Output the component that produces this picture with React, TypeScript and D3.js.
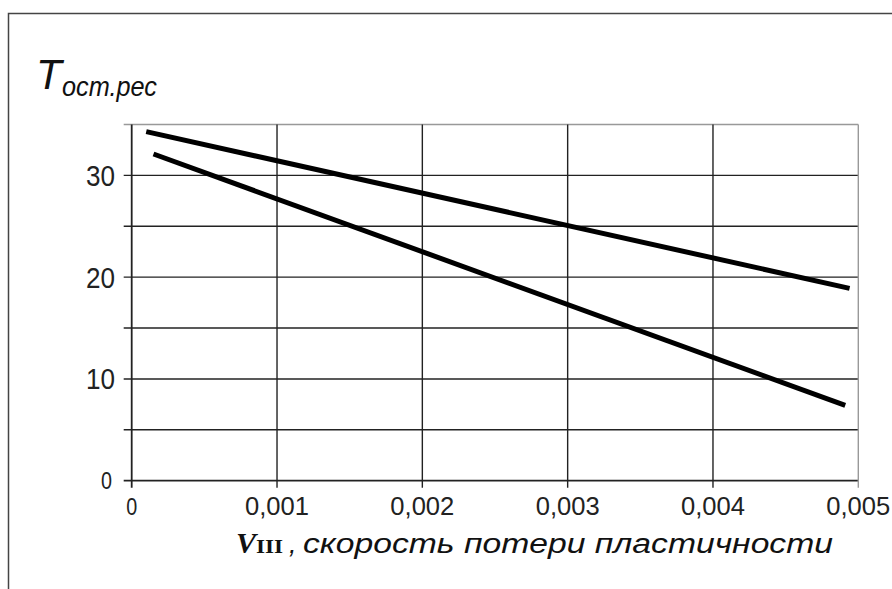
import React, { useEffect, useRef } from 'react';
import * as d3 from 'd3';

// speed of plasticity loss (x) vs residual resource (y)
const upperX = [0.0001, 0.00494];
const upperY = [34.3, 18.9];
const lowerX = [0.00015, 0.00491];
const lowerY = [32.1, 7.4];

const xTicks = [0, 0.001, 0.002, 0.003, 0.004, 0.005];
const xTickLabels = ['0', '0,001', '0,002', '0,003', '0,004', '0,005'];
const yGrid = [0, 5, 10, 15, 20, 25, 30, 35];
const yTickLabels = [0, 10, 20, 30];

const App = () => {
  const ref = useRef<SVGSVGElement>(null);

  useEffect(() => {
    const svg = d3.select(ref.current);
    svg.selectAll('*').remove();

    const x = d3.scaleLinear().domain([0, 0.005]).range([131.7, 858.3]);
    const y = d3.scaleLinear().domain([0, 35]).range([480.7, 124.5]);

    // outer frame
    svg.append('rect')
      .attr('x', 8.5).attr('y', 13.5)
      .attr('width', 900).attr('height', 600)
      .attr('fill', 'white')
      .attr('stroke', '#444').attr('stroke-width', 1.5);

    const g = svg.append('g');

    // horizontal grid
    g.selectAll('line.hg')
      .data(yGrid)
      .enter()
      .append('line')
      .attr('x1', x(0) - 8).attr('x2', x(0.005))
      .attr('y1', d => y(d)).attr('y2', d => y(d))
      .attr('stroke', d => d === 35 ? '#999' : '#222')
      .attr('stroke-width', d => d === 0 ? 1.8 : 1.4);

    // vertical grid
    g.selectAll('line.vg')
      .data(xTicks)
      .enter()
      .append('line')
      .attr('x1', d => x(d)).attr('x2', d => x(d))
      .attr('y1', y(35)).attr('y2', y(0) + 7)
      .attr('stroke', d => d === 0.005 ? '#999' : '#222')
      .attr('stroke-width', d => d === 0 ? 1.8 : 1.4);

    // y tick labels
    g.selectAll('text.yt')
      .data(yTickLabels)
      .enter()
      .append('text')
      .attr('x', d => d === 0 ? 112 : 115)
      .attr('y', d => y(d))
      .attr('dy', '0.36em')
      .attr('text-anchor', 'end')
      .attr('font-family', 'Liberation Sans, Arial, sans-serif')
      .attr('font-size', d => d === 0 ? 24 : 29)
      .attr('fill', '#222')
      .attr('textLength', d => d === 0 ? 11 : 29)
      .attr('lengthAdjust', 'spacingAndGlyphs')
      .text(d => String(d));

    // x tick labels
    g.selectAll('text.xt')
      .data(xTicks)
      .enter()
      .append('text')
      .attr('x', d => x(d))
      .attr('y', 515)
      .attr('text-anchor', 'middle')
      .attr('font-family', 'Liberation Sans, Arial, sans-serif')
      .attr('font-size', (d, i) => i === 0 ? 24 : 26)
      .attr('fill', '#222')
      .attr('textLength', (d, i) => i === 0 ? 11 : 64)
      .attr('lengthAdjust', 'spacingAndGlyphs')
      .text((d, i) => xTickLabels[i]);

    // the two curves
    const line = d3.line<[number, number]>()
      .x(d => x(d[0]))
      .y(d => y(d[1]));

    [[upperX, upperY], [lowerX, lowerY]].forEach(([xs, ys]) => {
      g.append('path')
        .datum(xs.map((v, i) => [v, ys[i]] as [number, number]))
        .attr('d', line)
        .attr('fill', 'none')
        .attr('stroke', '#000')
        .attr('stroke-width', 5);
    });

    // y axis title
    g.append('text')
      .attr('x', 36).attr('y', 89)
      .attr('font-family', 'Liberation Sans, Arial, sans-serif')
      .attr('font-style', 'italic')
      .attr('font-size', 42)
      .attr('fill', '#111')
      .text('T');
    g.append('text')
      .attr('x', 62).attr('y', 96)
      .attr('font-family', 'Liberation Sans, Arial, sans-serif')
      .attr('font-style', 'italic')
      .attr('font-size', 27)
      .attr('fill', '#111')
      .attr('textLength', 95)
      .attr('lengthAdjust', 'spacingAndGlyphs')
      .text('ост.рес');

    // x axis title
    g.append('text')
      .attr('x', 236).attr('y', 553)
      .attr('font-family', 'Liberation Serif, Times New Roman, serif')
      .attr('font-style', 'italic')
      .attr('font-weight', 'bold')
      .attr('font-size', 30)
      .attr('fill', '#111')
      .text('V');
    g.append('text')
      .attr('x', 256).attr('y', 553)
      .attr('font-family', 'Liberation Serif, Times New Roman, serif')
      .attr('font-weight', 'bold')
      .attr('font-size', 18)
      .attr('fill', '#111')
      .attr('textLength', 27)
      .attr('lengthAdjust', 'spacingAndGlyphs')
      .text('III');
    g.append('text')
      .attr('x', 289).attr('y', 553)
      .attr('font-family', 'Liberation Sans, Arial, sans-serif')
      .attr('font-style', 'italic')
      .attr('font-size', 27)
      .attr('fill', '#111')
      .text(',');
    g.append('text')
      .attr('x', 303).attr('y', 553)
      .attr('font-family', 'Liberation Sans, Arial, sans-serif')
      .attr('font-style', 'italic')
      .attr('font-size', 27)
      .attr('fill', '#111')
      .attr('textLength', 530)
      .attr('lengthAdjust', 'spacingAndGlyphs')
      .text('скорость потери пластичности');
  }, []);

  return (
    <svg
      ref={ref}
      width={892}
      height={589}
      style={{ position: 'absolute', top: 0, left: 0, background: 'white' }}
    />
  );
};

export default App;
